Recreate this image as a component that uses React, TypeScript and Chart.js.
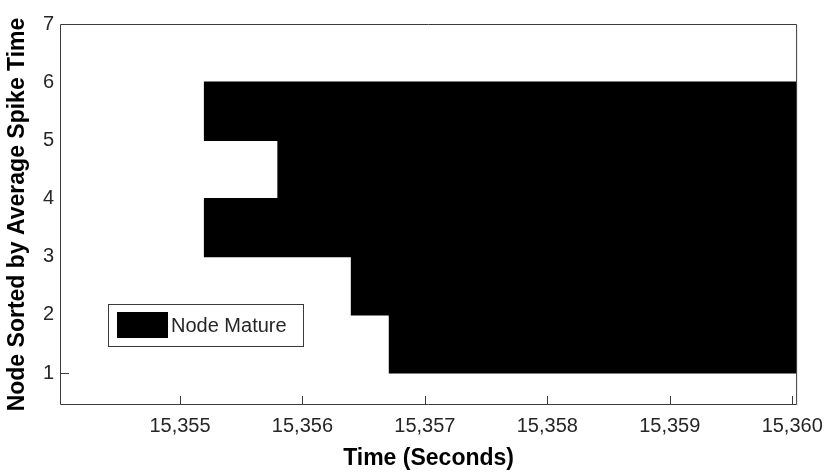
import React, { useEffect, useRef } from 'react';
import { Chart, registerables } from 'chart.js';

Chart.register(...registerables);

// ---- data ----
const nodeRows = [1, 2, 3, 4, 5]; // lower edge of each node's row
const matureStart = [15356.71, 15356.4, 15355.2, 15355.8, 15355.2];
const matureEnd = [15360.03, 15360.03, 15360.03, 15360.03, 15360.03];
const xTickValues = [15355, 15356, 15357, 15358, 15359, 15360];
const yTickValues = [1, 2, 3, 4, 5, 6, 7];
const yMarkedTicks = [1];
const seriesLabel = 'Node Mature';
const xTitle = 'Time (Seconds)';
const yTitle = 'Node Sorted by Average Spike Time';
const xMin = 15354.02;
const xMax = 15360.04;
const yMin = 0.45;
const yMax = 7;

const FONT = '"Liberation Sans", Arial, Helvetica, sans-serif';
const AXIS_COLOR = '#3a3a3a';

const boxPlugin = {
  id: 'matlabBox',
  afterDatasetsDraw(chart: any) {
    const { ctx, chartArea } = chart;
    const { left, top, right, bottom } = chartArea;
    const xs = chart.scales.x;
    const ys = chart.scales.y;
    ctx.save();
    ctx.strokeStyle = AXIS_COLOR;
    ctx.lineWidth = 1;
    ctx.beginPath();
    ctx.rect(left + 0.5, top + 0.5, right - left - 1, bottom - top - 1);
    ctx.stroke();
    // inward tick marks
    ctx.beginPath();
    xTickValues.forEach((v) => {
      const px = Math.round(xs.getPixelForValue(v)) + 0.5;
      ctx.moveTo(px, bottom - 0.5);
      ctx.lineTo(px, bottom - 9);
    });
    yMarkedTicks.forEach((v) => {
      const py = Math.round(ys.getPixelForValue(v)) + 0.5;
      ctx.moveTo(left + 0.5, py);
      ctx.lineTo(left + 9, py);
    });
    ctx.stroke();

    // legend box
    const lx = 108, ly = 304, lw = 196, lh = 43;
    ctx.fillStyle = '#ffffff';
    ctx.fillRect(lx, ly, lw, lh);
    ctx.strokeStyle = AXIS_COLOR;
    ctx.strokeRect(lx + 0.5, ly + 0.5, lw - 1, lh - 1);
    const ds = chart.data.datasets[0];
    ctx.fillStyle = ds.backgroundColor;
    ctx.fillRect(117, 312, 51, 26);
    ctx.fillStyle = '#262626';
    ctx.font = `20px ${FONT}`;
    ctx.textBaseline = 'middle';
    ctx.textAlign = 'left';
    ctx.fillText(ds.label, 171, 326);
    ctx.restore();
  },
};

export default function App() {
  const canvasRef = useRef<HTMLCanvasElement | null>(null);

  useEffect(() => {
    document.body.style.margin = '0';
    const canvas = canvasRef.current;
    if (!canvas) return;
    const data = nodeRows.map((r, i) => ({ y: r + 0.5, x: [matureStart[i], matureEnd[i]] }));
    const chart = new Chart(canvas, {
      type: 'bar',
      data: {
        datasets: [
          {
            label: seriesLabel,
            data: data as any,
            backgroundColor: '#000000',
            borderWidth: 0,
            inflateAmount: 0.6,
            categoryPercentage: 1,
            barPercentage: 1,
          } as any,
        ],
      },
      plugins: [boxPlugin],
      options: {
        animation: false,
        responsive: false,
        devicePixelRatio: 1,
        indexAxis: 'y',
        layout: { padding: { top: 24, right: 30, left: 0, bottom: 0 } },
        plugins: {
          legend: { display: false },
          tooltip: { enabled: false },
        },
        scales: {
          x: {
            type: 'linear',
            min: xMin,
            max: xMax,
            offset: false,
            grid: { display: false, drawTicks: false },
            border: { display: false },
            afterBuildTicks: (scale: any) => {
              scale.ticks = xTickValues.map((v) => ({ value: v }));
            },
            afterFit: (scale: any) => {
              scale.height = 68;
            },
            ticks: {
              padding: 9,
              color: '#262626',
              font: { family: FONT, size: 20 },
              maxRotation: 0,
              autoSkip: false,
              callback: (v: any) => Number(v).toLocaleString('en-US'),
            },
            title: {
              display: true,
              text: xTitle,
              color: '#000000',
              font: { family: FONT, size: 23, weight: 'bold', lineHeight: 1 },
              padding: { top: 0, bottom: 3 },
            },
          },
          y: {
            type: 'linear',
            min: yMin,
            max: yMax,
            offset: false,
            grid: { display: false, drawTicks: false },
            border: { display: false },
            afterBuildTicks: (scale: any) => {
              scale.ticks = yTickValues.map((v) => ({ value: v }));
            },
            afterFit: (scale: any) => {
              scale.width = 60;
            },
            ticks: {
              padding: 6,
              color: '#262626',
              font: { family: FONT, size: 20 },
              autoSkip: false,
              callback: (v: any) => String(v),
            },
            title: {
              display: true,
              text: yTitle,
              color: '#000000',
              font: { family: FONT, size: 23, weight: 'bold', lineHeight: 1 },
              padding: { top: 6, bottom: 0 },
            },
          },
        },
      },
    });
    return () => chart.destroy();
  }, []);

  return (
    <div style={{ position: 'absolute', left: 0, top: 0, width: 832, height: 473, background: '#fff' }}>
      <canvas ref={canvasRef} width={832} height={473} style={{ width: 832, height: 473, display: 'block' }} />
    </div>
  );
}
